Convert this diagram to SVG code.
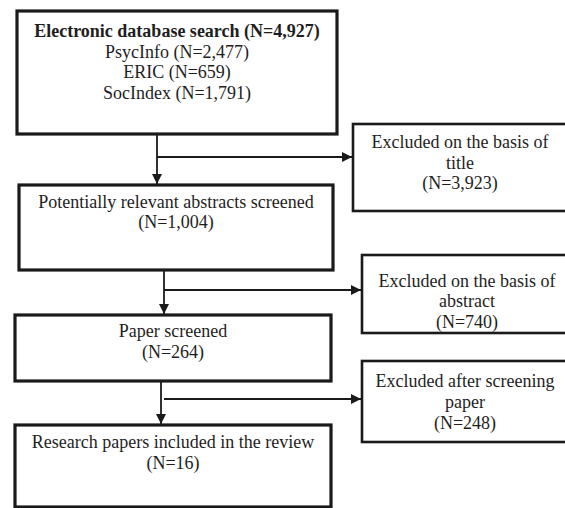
<svg xmlns="http://www.w3.org/2000/svg" width="565" height="508" viewBox="0 0 565 508">
  <defs>
    <marker id="arrow" viewBox="0 0 10 10" refX="10" refY="5" markerWidth="11" markerHeight="10" markerUnits="userSpaceOnUse" orient="auto">
      <path d="M0,0 L10,5 L0,10 Z" fill="#1a1a1a"/>
    </marker>
    <style>
      .box { fill: #ffffff; stroke: #1a1a1a; stroke-width: 3.2; }
      .side { fill: #ffffff; stroke: #1a1a1a; stroke-width: 2.6; }
      .link { fill: none; stroke: #1a1a1a; stroke-width: 1.8; }
      .t { font-family: 'Liberation Serif', serif; font-size: 18px; fill: #1e1e1e; text-anchor: middle; }
      .bold { font-weight: bold; }
    </style>
  </defs>
  <rect width="565" height="508" fill="#ffffff"/>

  <g id="connectors">
    <line class="link" x1="157" y1="135" x2="157" y2="184" marker-end="url(#arrow)"/>
    <line class="link" x1="157" y1="157" x2="352" y2="157" marker-end="url(#arrow)"/>
    <line class="link" x1="164" y1="270" x2="164" y2="314" marker-end="url(#arrow)"/>
    <line class="link" x1="164" y1="290" x2="361" y2="290" marker-end="url(#arrow)"/>
    <line class="link" x1="161" y1="381" x2="161" y2="424" marker-end="url(#arrow)"/>
    <line class="link" x1="164" y1="399" x2="361" y2="399" marker-end="url(#arrow)"/>
  </g>

  <g id="search">
    <rect class="box" x="17" y="11" width="320" height="123"/>
    <text class="t bold" x="177" y="37">Electronic database search (N=4,927)</text>
    <text class="t" x="177" y="57.5">PsycInfo (N=2,477)</text>
    <text class="t" x="177" y="78">ERIC (N=659)</text>
    <text class="t" x="177" y="98.5">SocIndex (N=1,791)</text>
  </g>

  <g id="excluded-title">
    <rect class="side" x="353" y="124" width="216" height="87"/>
    <text class="t" x="460" y="148">Excluded on the basis of</text>
    <text class="t" x="460" y="168.5">title</text>
    <text class="t" x="460" y="189">(N=3,923)</text>
  </g>

  <g id="abstracts">
    <rect class="box" x="19" y="185" width="314" height="85"/>
    <text class="t" x="176" y="207.5">Potentially relevant abstracts screened</text>
    <text class="t" x="176" y="228">(N=1,004)</text>
  </g>

  <g id="excluded-abstract">
    <rect class="side" x="362" y="255" width="210" height="78"/>
    <text class="t" x="467" y="287">Excluded on the basis of</text>
    <text class="t" x="467" y="307">abstract</text>
    <text class="t" x="467" y="327.5">(N=740)</text>
  </g>

  <g id="papers">
    <rect class="box" x="15" y="315" width="316" height="66"/>
    <text class="t" x="173" y="337">Paper screened</text>
    <text class="t" x="173" y="358">(N=264)</text>
  </g>

  <g id="excluded-paper">
    <rect class="side" x="362" y="361" width="210" height="81"/>
    <text class="t" x="465" y="387">Excluded after screening</text>
    <text class="t" x="465" y="407.5">paper</text>
    <text class="t" x="465" y="428.5">(N=248)</text>
  </g>

  <g id="included">
    <rect class="box" x="15" y="425" width="316" height="82"/>
    <text class="t" x="173" y="448">Research papers included in the review</text>
    <text class="t" x="173" y="469">(N=16)</text>
  </g>
</svg>
